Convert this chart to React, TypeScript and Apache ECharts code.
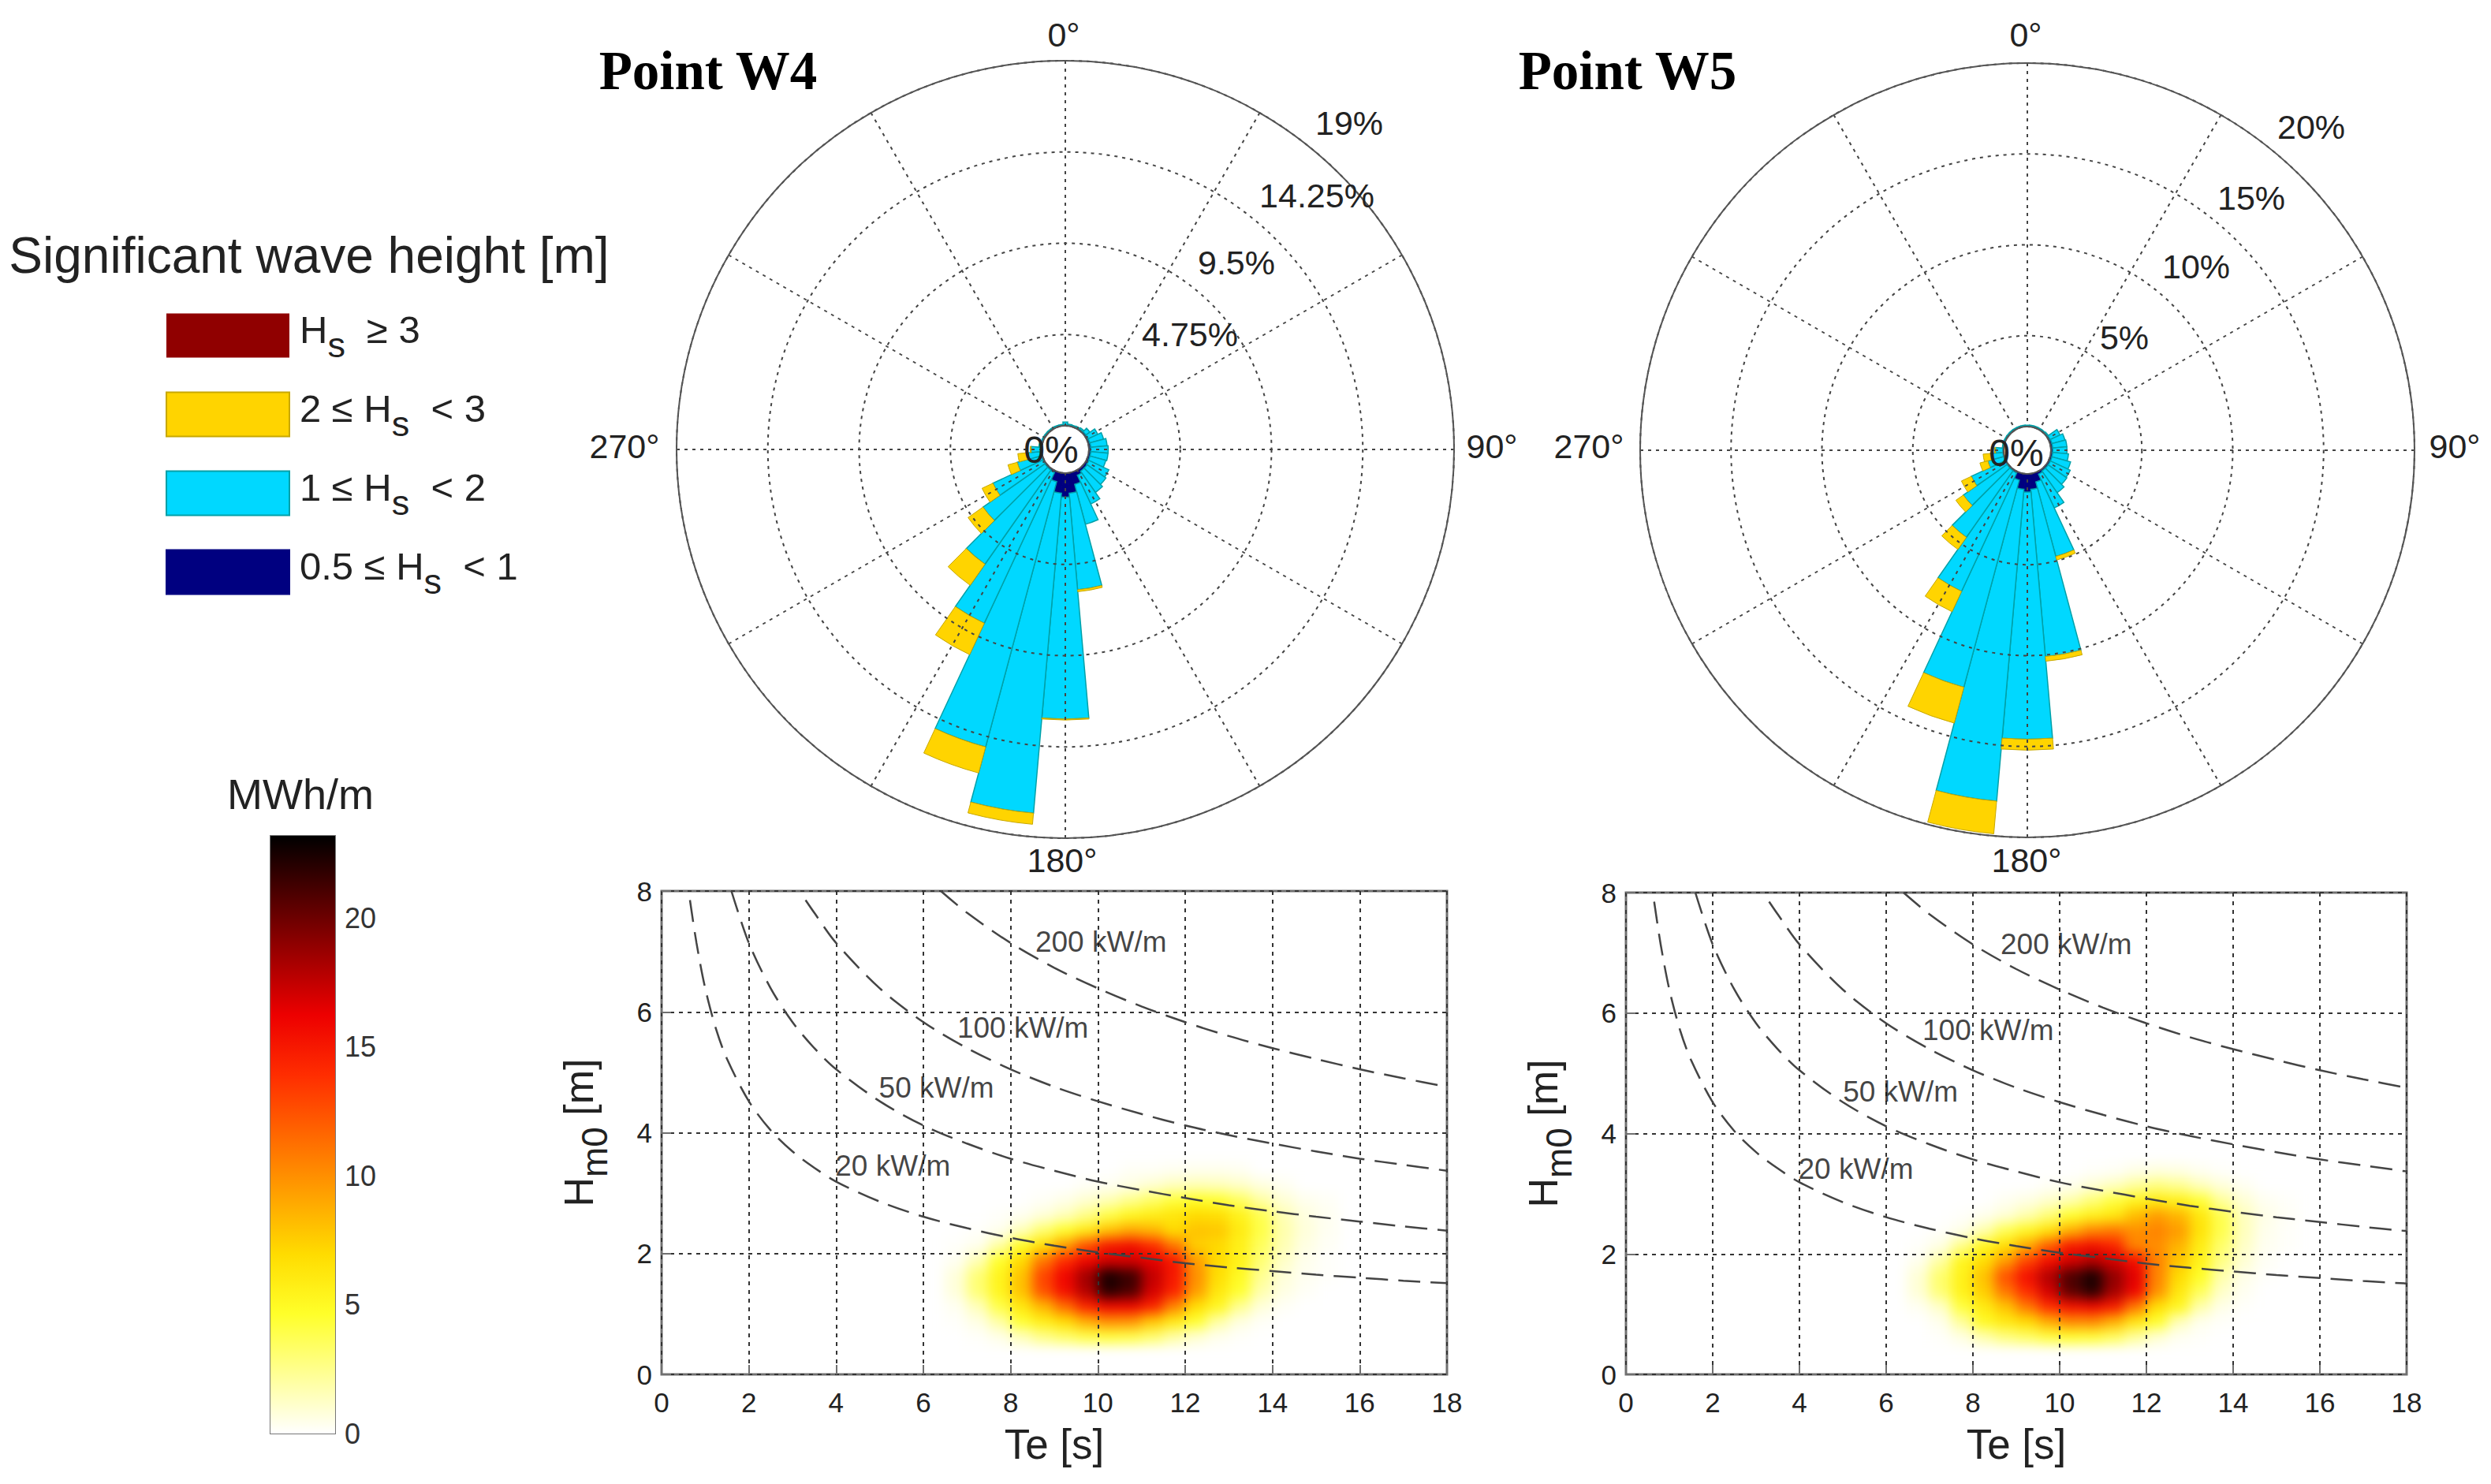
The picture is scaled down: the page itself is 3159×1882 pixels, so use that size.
import React from "react";
import * as echarts from "echarts";

const FONT = "Liberation Sans";
const SERIF = "Liberation Serif";

// wave roses: % per 10 degree direction bin, 0..350 clockwise from north
const directions = [0, 10, 20, 30, 40, 50, 60, 70, 80, 90, 100, 110, 120, 130, 140, 150, 160, 170, 180, 190, 200, 210, 220, 230, 240, 250, 260, 270, 280, 290, 300, 310, 320, 330, 340, 350];

const w4Low = [0.05, 0.05, 0.05, 0.05, 0.06, 0.08, 0.08, 0.08, 0.1, 0.1, 0.1, 0.1, 0.12, 0.15, 0.15, 0.25, 0.65, 1.05, 1.25, 1.05, 0.5, 0.1, 0.08, 0.07, 0.06, 0.05, 0.05, 0.05, 0.05, 0.05, 0.05, 0.05, 0.05, 0.05, 0.05, 0.05];
const w4Mid = [0.15, 0.05, 0.03, 0.05, 0.08, 0.25, 0.55, 0.75, 0.85, 0.9, 0.9, 0.85, 1.15, 1.2, 1.35, 1.65, 2.15, 5.05, 11.55, 16.72, 14.3, 8.65, 5.98, 3.93, 2.87, 1.31, 0.65, 0.5, 0.1, 0.03, 0.03, 0.03, 0.03, 0.03, 0.03, 0.03];
const w4High = [null, null, null, null, null, null, null, null, null, null, null, null, null, null, null, null, null, 0.1, 0.05, 0.58, 1.4, 1.8, 1.34, 0.95, 0.62, 0.5, 0.55, 0.05, null, null, null, null, null, null, null, null];
const w4Top = directions.map(() => null);

const w5Low = [0.05, 0.05, 0.05, 0.05, 0.05, 0.06, 0.08, 0.1, 0.1, 0.1, 0.1, 0.1, 0.1, 0.1, 0.1, 0.15, 0.5, 0.85, 1.0, 0.85, 0.4, 0.08, 0.07, 0.06, 0.05, 0.05, 0.05, 0.05, 0.05, 0.05, 0.05, 0.05, 0.05, 0.05, 0.05, 0.05];
const w5Mid = [0.03, 0.03, 0.03, 0.03, 0.03, 0.05, 0.6, 0.74, 0.78, 0.78, 0.87, 1.06, 1.2, 1.25, 1.45, 2.05, 4.25, 9.24, 13.6, 17.23, 11.8, 7.19, 4.48, 2.94, 2.05, 0.9, 0.7, 0.4, 0.03, 0.03, 0.03, 0.03, 0.03, 0.03, 0.03, 0.03];
const w5High = [null, null, null, null, null, null, null, null, null, null, null, null, null, null, null, null, 0.2, 0.26, 0.6, 1.8, 2.04, 1.23, 0.81, 0.5, 0.6, 0.45, 0.39, 0.05, null, null, null, null, null, null, null, null];
const w5Top = directions.map(() => null);

const legendNames = ["Hs ≥ 3", "2 ≤ Hs < 3", "1 ≤ Hs < 2", "0.5 ≤ Hs < 1"];
const legendRich = ["{h|H}{s|s}{h|  ≥ 3}", "{h|2 ≤ H}{s|s}{h|  < 3}", "{h|1 ≤ H}{s|s}{h|  < 2}", "{h|0.5 ≤ H}{s|s}{h|  < 1}"];

// power contours, [Te, Hm0]
const curve200 = [[6.4, 8], [7, 7.64], [8, 7.14], [9, 6.73], [10, 6.39], [11, 6.09], [12, 5.83], [13, 5.6], [14, 5.4], [15, 5.22], [16, 5.05], [17, 4.9], [18, 4.76]];
const curve100 = [[3.3, 7.85], [3.5, 7.64], [4, 7.14], [5, 6.39], [6, 5.83], [7, 5.4], [8, 5.05], [9, 4.76], [10, 4.52], [11, 4.31], [12, 4.12], [13, 3.96], [14, 3.82], [15, 3.69], [16, 3.57], [17, 3.47], [18, 3.37]];
const curve50 = [[1.6, 8], [2, 7.14], [2.5, 6.39], [3, 5.83], [3.5, 5.4], [4, 5.05], [5, 4.52], [6, 4.12], [7, 3.82], [8, 3.57], [9, 3.37], [10, 3.19], [11, 3.05], [12, 2.92], [13, 2.8], [14, 2.7], [15, 2.61], [16, 2.53], [17, 2.45], [18, 2.38]];
const curve20 = [[0.65, 7.85], [0.8, 7.14], [1, 6.39], [1.25, 5.71], [1.5, 5.22], [2, 4.52], [2.5, 4.04], [3, 3.69], [3.5, 3.42], [4, 3.19], [5, 2.86], [6, 2.61], [7, 2.42], [8, 2.26], [9, 2.13], [10, 2.02], [11, 1.93], [12, 1.84], [13, 1.77], [14, 1.71], [15, 1.65], [16, 1.6], [17, 1.55], [18, 1.51]];
const curves = [curve200, curve100, curve50, curve20];

const curveLabels = ["200 kW/m", "100 kW/m", "50 kW/m", "20 kW/m"];
const w4LabelAt = [[10.07, 7.16], [8.28, 5.73], [6.3, 4.74], [5.3, 3.45]];
const w5LabelAt = [[10.15, 7.14], [8.35, 5.71], [6.33, 4.7], [5.3, 3.41]];

// energy matrix in MWh/m. Columns: Te bands 6.5-7 .. 15-15.5, rows: Hm0 bands 3.25-3.5 (top) .. 0.5-0.75
const heatTeStart = 13; // index of the 6.5 band
const heatHsStart = 2; // index of the 0.5 band
const heatW4 = [
  [0, 0, 0, 0, 0, 0, 0, 0, 0.2, 0.2, 0.3, 0.4, 0.4, 0.3, 0, 0, 0, 0],
  [0, 0, 0, 0, 0, 0, 0.2, 0.3, 0.6, 1, 1.4, 1.6, 1.5, 1.2, 0.7, 0.3, 0, 0],
  [0, 0, 0, 0, 0.2, 0.5, 1, 1.6, 2.5, 3.4, 4.3, 4.8, 4.5, 3.5, 2, 0.9, 0.4, 0.2],
  [0, 0, 0.1, 0.3, 0.8, 1.5, 2.6, 4, 5.2, 5.8, 6.3, 7, 6.8, 5.5, 3.8, 1.6, 0.7, 0.3],
  [0, 0.1, 0.4, 1.5, 3.2, 4.7, 6, 8, 9, 8.5, 7, 8, 7.8, 6, 4, 1.8, 0.8, 0.3],
  [0.1, 0.4, 2, 4.8, 6.8, 9.5, 12.5, 15, 15.5, 14, 11, 7.5, 7, 5.6, 3.5, 1.6, 0.6, 0.2],
  [0.3, 1.6, 4.6, 7, 11, 14, 16, 17, 17, 16.5, 15, 9.5, 7, 5.5, 3, 1.2, 0.4, 0.1],
  [0.8, 3, 5.4, 8, 13, 16, 18.5, 22.5, 21.5, 17.5, 15, 10, 6.8, 5, 2.4, 0.8, 0.3, 0.1],
  [0.8, 3, 5.3, 8, 12.5, 15.5, 18, 22, 21, 17, 14.5, 9.5, 6.2, 4.5, 1.8, 0.6, 0.2, 0],
  [0.3, 1.5, 4, 6.2, 8.5, 11.5, 14.5, 16, 16, 14.5, 10.5, 6.8, 5.2, 2.4, 0.8, 0.2, 0, 0],
  [0.1, 0.6, 2, 4.5, 5.8, 7, 8.8, 10, 9.8, 7.8, 6, 4.5, 2, 0.7, 0.2, 0, 0, 0],
  [0, 0.1, 0.5, 1.5, 2.6, 3.3, 4, 4.3, 4, 3.2, 2, 1, 0.4, 0.1, 0, 0, 0, 0],
];
const heatW5 = [
  [0, 0, 0, 0, 0, 0, 0, 0, 0.1, 0.2, 0.5, 0.7, 0.6, 0.3, 0.1, 0, 0, 0],
  [0, 0, 0, 0, 0, 0, 0.2, 0.4, 0.9, 1.4, 2.2, 2.8, 2.4, 1.5, 0.8, 0.3, 0, 0],
  [0, 0, 0, 0, 0.3, 0.6, 1.1, 1.8, 3, 4.2, 5.4, 6, 5.6, 4.4, 2.2, 0.9, 0.3, 0.1],
  [0, 0, 0.1, 0.4, 0.9, 1.8, 3, 4.6, 5.6, 6.2, 8.2, 9.5, 8.5, 6.2, 3.8, 1.4, 0.5, 0.2],
  [0, 0.1, 0.5, 1.8, 3.8, 5.2, 6.6, 8.8, 10.5, 11, 10, 10.5, 9.5, 6.4, 3.8, 1.4, 0.4, 0.1],
  [0.1, 0.6, 2.6, 5.2, 6.8, 9, 12, 15, 15.5, 14.5, 10.5, 10, 8.5, 5.8, 3.2, 1.2, 0.3, 0.1],
  [0.4, 2, 5.2, 6.8, 9.5, 13, 15.5, 17, 18, 17, 15.5, 10.5, 7.8, 5.4, 2.6, 0.9, 0.2, 0],
  [0.9, 3.2, 5.6, 8, 12.5, 15.5, 18, 21, 22.5, 19, 16.5, 10.5, 7, 4.8, 1.8, 0.5, 0.1, 0],
  [0.9, 3, 5.5, 7.5, 11, 14, 17, 20.5, 22, 18.5, 16, 10, 6.2, 3.6, 1.2, 0.3, 0, 0],
  [0.3, 1.2, 4.2, 6, 8, 11, 14, 15.5, 16, 15, 11, 6.8, 5.2, 1.8, 0.5, 0.1, 0, 0],
  [0, 0.4, 2.2, 5, 6, 7, 8.8, 10.2, 10.2, 8.6, 6.2, 4.6, 1.5, 0.4, 0.1, 0, 0, 0],
  [0, 0.1, 0.6, 1.8, 2.8, 3.4, 4.2, 4.6, 4.4, 3.6, 2.2, 1, 0.3, 0.1, 0, 0, 0, 0],
];

// reversed "hot" colour map, 0 .. 23.2 in even steps
const hotColors = ["#ffffff", "#ffff94", "#ffff2a", "#ffdc00", "#ffa100", "#ff6700", "#ff2d00", "#ed0000", "#9e0000", "#4f0000", "#000000"];
const energyMax = 23.2;

const wh = { width: 3159, height: 1882 };
const w4Plot = { left: 839, top: 1130, width: 996, height: 613 };
const w5Plot = { left: 2062, top: 1132, width: 990, height: 611 };

const text = (s: string, x: number, y: number, fontSize: number, extra: any = {}) => ({
  type: "text",
  z: 20,
  x,
  y,
  style: { text: s, fill: "#222", fontSize, fontFamily: FONT, align: "center", verticalAlign: "middle", ...extra },
});

function roseParts(index: number, center: number[], outer: number, max: number, step: number, low: any[], mid: any[], high: any[], top: any[]) {
  const gridIdx = index * 2;
  const barIdx = index * 2 + 1;
  const dash = { type: [4, 6], width: 2, color: "#444" };
  const polar = [
    { center, radius: [30, outer] },
    { center, radius: [30, outer] },
  ];
  const angleAxis = [
    {
      polarIndex: gridIdx, type: "value", min: 0, max: 360, interval: 30, startAngle: 90, z: 5,
      axisLine: { show: true, lineStyle: { color: "#555", width: 2 } },
      axisTick: { show: false }, axisLabel: { show: false },
      splitLine: { show: true, lineStyle: dash },
    },
    { polarIndex: barIdx, type: "category", data: directions, startAngle: 95, show: false },
  ];
  const radiusAxis = [
    {
      polarIndex: gridIdx, type: "value", min: 0, max, interval: step, z: 5,
      axisLine: { show: false }, axisTick: { show: false }, axisLabel: { show: false },
      splitLine: { show: true, lineStyle: dash },
    },
    { polarIndex: barIdx, type: "value", min: 0, max, show: false, splitLine: { show: false } },
  ];
  const bar = (name: string, data: any[], color: string, borderColor: string, borderWidth: number) => ({
    name, type: "bar", coordinateSystem: "polar", polarIndex: barIdx, stack: "rose" + index, data,
    barCategoryGap: "0%", barGap: "0%", z: 2,
    itemStyle: { color, borderColor, borderWidth },
  });
  const series = [
    bar(legendNames[3], low, "#000080", "#000080", 1),
    bar(legendNames[2], mid, "#00d8ff", "#00a0a8", 1.5),
    bar(legendNames[1], high, "#ffd400", "#c8a800", 1),
    bar(legendNames[0], top, "#900000", "#900000", 0),
  ];
  return { polar, angleAxis, radiusAxis, series };
}

const richAxisName = {
  h: { fontSize: 52, fontFamily: FONT, color: "#222", height: 46, lineHeight: 66, verticalAlign: "top" },
  s: { fontSize: 46, fontFamily: FONT, color: "#222", height: 46, lineHeight: 66, verticalAlign: "bottom" },
};

function plotParts(index: number, plot: any, labelAt: number[][]) {
  const dash = { type: [5, 6], width: 2, color: "#333" };
  const grid = { ...plot, show: true, borderColor: "#707070", borderWidth: 3, backgroundColor: "transparent" };
  const labelStyle = { fontSize: 35, fontFamily: FONT, color: "#222" };
  const xAxis = {
    gridIndex: index, type: "value", min: 0, max: 18, interval: 2,
    name: "Te [s]", nameLocation: "middle", nameGap: 62,
    nameTextStyle: { fontSize: 53, fontFamily: FONT, color: "#222" },
    axisLine: { show: false },
    axisTick: { inside: true, length: 12, lineStyle: { color: "#707070", width: 2 } },
    axisLabel: { ...labelStyle, margin: 18 },
    splitLine: { show: true, lineStyle: dash },
  };
  const yAxis = {
    gridIndex: index, type: "value", min: 0, max: 8, interval: 2,
    name: "{h|H}{s|m0}{h| [m]}", nameLocation: "middle", nameGap: 62,
    nameTextStyle: { rich: richAxisName },
    axisLine: { show: false },
    axisTick: { inside: true, length: 12, lineStyle: { color: "#707070", width: 2 } },
    axisLabel: { ...labelStyle, margin: 12 },
    splitLine: { show: true, lineStyle: dash },
  };
  const series: any[] = curves.map((c) => ({
    type: "line", xAxisIndex: index, yAxisIndex: index, data: c, smooth: 0.3, showSymbol: false, symbol: "none",
    lineStyle: { color: "#444", width: 2.5, type: [28, 13] }, z: 4,
  }));
  series.push({
    type: "scatter", xAxisIndex: index, yAxisIndex: index, symbolSize: 0, z: 6,
    data: labelAt.map((p, i) => ({ value: p, name: curveLabels[i] })),
    label: { show: true, position: "inside", formatter: "{b}", fontSize: 37, fontFamily: FONT, color: "#111" },
  });
  return { grid, xAxis, yAxis, series };
}

export default function App() {
  const heatRef = React.useRef<HTMLDivElement>(null);
  const mainRef = React.useRef<HTMLDivElement>(null);

  React.useEffect(() => {
    if (!heatRef.current || !mainRef.current) return;
    document.body.style.margin = "0";
    document.body.style.background = "#fff";

    // shaded energy maps sit on their own blurred layer under the axes
    const heat = echarts.init(heatRef.current, null, { renderer: "svg" });
    const teBands = Array.from({ length: 36 }, (_, i) => String(i * 0.5));
    const hsBands = Array.from({ length: 32 }, (_, i) => String(i * 0.25));
    const cells = (m: number[][]) =>
      m.flatMap((row, r) => row.map((v, c) => [heatTeStart + c, heatHsStart + (m.length - 1 - r), v]));
    const heatAxis = (i: number, data: string[]) => ({ gridIndex: i, type: "category", data, show: false });
    heat.setOption({
      animation: false,
      grid: [w4Plot, w5Plot],
      xAxis: [heatAxis(0, teBands), heatAxis(1, teBands)],
      yAxis: [heatAxis(0, hsBands), heatAxis(1, hsBands)],
      visualMap: { show: false, min: 0, max: energyMax, dimension: 2, seriesIndex: [0, 1], inRange: { color: hotColors } },
      series: [
        { type: "heatmap", xAxisIndex: 0, yAxisIndex: 0, data: cells(heatW4), progressive: 0 },
        { type: "heatmap", xAxisIndex: 1, yAxisIndex: 1, data: cells(heatW5), progressive: 0 },
      ],
    });

    const main = echarts.init(mainRef.current, null, { renderer: "svg" });
    const rose4 = roseParts(0, [1351, 570], 493, 19, 4.75, w4Low, w4Mid, w4High, w4Top);
    const rose5 = roseParts(1, [2571, 571], 491, 20, 5, w5Low, w5Mid, w5High, w5Top);
    const plot4 = plotParts(0, w4Plot, w4LabelAt);
    const plot5 = plotParts(1, w5Plot, w5LabelAt);
    const barGradient = new echarts.graphic.LinearGradient(
      0, 0, 0, 1,
      hotColors.map((_, i) => ({ offset: i / (hotColors.length - 1), color: hotColors[hotColors.length - 1 - i] })),
    );
    const barAxis = (position: string, showLabel: boolean) => ({
      gridIndex: 2, type: "value", position, min: 0, max: energyMax, interval: 5,
      axisLine: { show: false },
      axisTick: { inside: true, length: 8, lineStyle: { color: "#222", width: 2 } },
      axisLabel: { show: showLabel, showMaxLabel: false, fontSize: 36, fontFamily: FONT, color: "#333", margin: 12 },
      splitLine: { show: false },
    });

    main.setOption({
      animation: false,
      backgroundColor: "transparent",
      polar: [...rose4.polar, ...rose5.polar],
      angleAxis: [...rose4.angleAxis, ...rose5.angleAxis],
      radiusAxis: [...rose4.radiusAxis, ...rose5.radiusAxis],
      grid: [plot4.grid, plot5.grid, { left: 343, top: 1060, width: 82, height: 758, show: true, borderColor: "#777", borderWidth: 2 }],
      xAxis: [plot4.xAxis, plot5.xAxis, { gridIndex: 2, type: "category", data: ["MWh/m"], show: false }],
      yAxis: [plot4.yAxis, plot5.yAxis, barAxis("right", true), barAxis("left", false)],
      legend: {
        orient: "vertical", left: 210, top: 393, padding: 0, itemWidth: 156, itemHeight: 56, itemGap: 33, icon: "rect",
        selectedMode: false, data: legendNames,
        formatter: (name: string) => legendRich[legendNames.indexOf(name)],
        textStyle: {
          padding: [4, 0, 0, 8],
          rich: {
            h: { fontSize: 49, fontFamily: FONT, color: "#222", height: 44, lineHeight: 64, verticalAlign: "top" },
            s: { fontSize: 45, fontFamily: FONT, color: "#222", height: 44, lineHeight: 64, verticalAlign: "bottom" },
          },
        },
      },
      series: [
        ...rose4.series,
        ...rose5.series,
        ...plot4.series,
        ...plot5.series,
        { type: "bar", xAxisIndex: 2, yAxisIndex: 2, data: [energyMax], barWidth: "100%", itemStyle: { color: barGradient } },
      ],
      graphic: [
        text("Significant wave height [m]", 392, 324, 64),
        text("MWh/m", 381, 1007, 54),
        text("Point W4", 898, 90, 69, { fontFamily: SERIF, fontWeight: "bold", fill: "#000" }),
        text("Point W5", 2064, 90, 69, { fontFamily: SERIF, fontWeight: "bold", fill: "#000" }),
        text("0°", 1349, 44, 43),
        text("90°", 1892, 566, 43),
        text("180°", 1347, 1091, 43),
        text("270°", 792, 566, 43),
        text("19%", 1711, 156, 43),
        text("14.25%", 1670, 248, 43),
        text("9.5%", 1568, 333, 43),
        text("4.75%", 1509, 424, 43),
        text("0%", 1333, 570, 48),
        text("0°", 2569, 44, 43),
        text("90°", 3113, 566, 43),
        text("180°", 2570, 1091, 43),
        text("270°", 2015, 566, 43),
        text("20%", 2931, 161, 43),
        text("15%", 2855, 251, 43),
        text("10%", 2785, 338, 43),
        text("5%", 2694, 428, 43),
        text("0%", 2557, 574, 48),
      ],
    });

    return () => {
      heat.dispose();
      main.dispose();
    };
  }, []);

  const layer: React.CSSProperties = { position: "absolute", left: 0, top: 0, ...wh };
  return (
    <div style={{ position: "relative", ...wh, overflow: "hidden", background: "#fff" }}>
      <div ref={heatRef} style={{ ...layer, filter: "blur(8px)" }} />
      <div ref={mainRef} style={layer} />
    </div>
  );
}
